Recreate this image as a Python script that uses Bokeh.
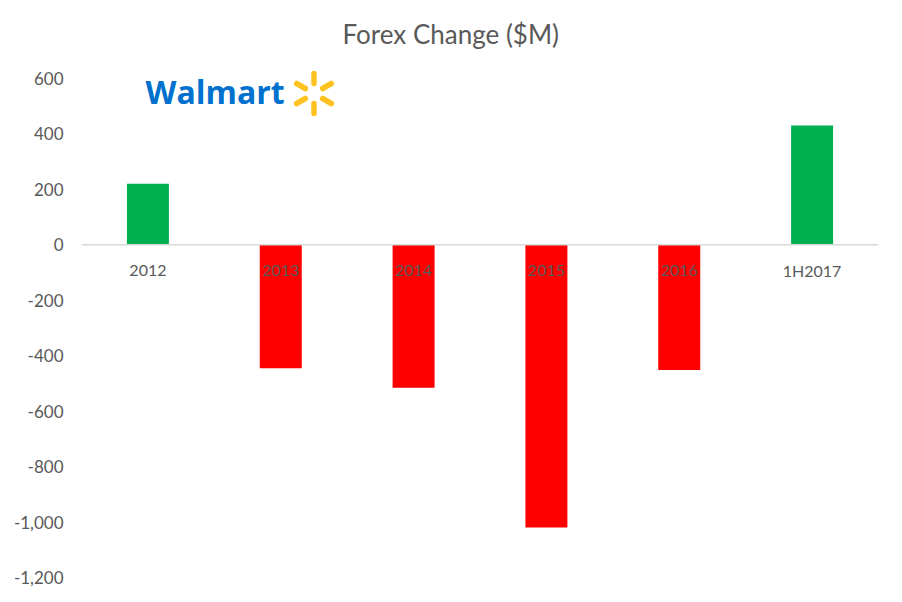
import math
from bokeh.plotting import figure
from bokeh.models import (Range1d, FixedTicker, NumeralTickFormatter, Span,
                          ColumnDataSource)
from bokeh.core.properties import value
from bokeh.embed import file_html
from bokeh.resources import INLINE

# ---- data ----
categories = ["2012", "2013", "2014", "2015", "2016", "1H2017"]
forex_change = [220, -445, -516, -1020, -452, 430]
y_ticks = [-1200, -1000, -800, -600, -400, -200, 0, 200, 400, 600]
title_text = "Forex Change ($M)"
logo_text = "Walmart"

POS = "#00b050"
NEG = "#ff0000"
GRAY = "#595959"
FONT = "Lato"

idx = list(range(len(categories)))
colors = [POS if v >= 0 else NEG for v in forex_change]
src = ColumnDataSource(dict(i=idx, cat=categories, val=forex_change, color=colors,
                            zero=[0] * len(categories)))

p = figure(x_range=Range1d(-0.5, len(categories) - 0.5), y_range=Range1d(-1200, 668),
           frame_width=797, frame_height=518,
           min_border_left=81, min_border_right=22,
           min_border_top=59, min_border_bottom=23,
           x_axis_location=None, toolbar_location=None,
           output_backend="svg", title=title_text)
p.outline_line_color = None
p.xgrid.visible = False
p.ygrid.visible = False
p.background_fill_color = "white"
p.border_fill_color = "white"

p.title.align = "left"
p.title.text_font = FONT
p.title.text_font_style = "normal"
p.title.text_font_size = "26px"
p.title.text_color = GRAY
p.title.offset = 261
p.title.standoff = 20

ax = p.yaxis[0]
ax.ticker = FixedTicker(ticks=y_ticks)
ax.formatter = NumeralTickFormatter(format="0,0")
ax.axis_line_color = None
ax.major_tick_line_color = None
ax.minor_tick_line_color = None
ax.major_tick_out = 0
ax.major_tick_in = 0
ax.major_label_standoff = 18
ax.major_label_text_font = FONT
ax.major_label_text_font_size = "17px"
ax.major_label_text_color = GRAY

p.vbar(x="i", top="val", bottom=0, width=0.316, source=src,
       fill_color="color", line_color=None)

p.add_layout(Span(location=0, dimension="width", line_color="#d9d9d9",
                  line_width=1.3))

# category labels just below the zero line
p.text(x="i", y="zero", text="cat", source=src, y_offset=26,
       text_align="center", text_baseline="alphabetic",
       text_font=value(FONT), text_font_size="16px", text_color=GRAY)

# ---- logo (page-pixel overlay ranges) ----
p.extra_x_ranges = {"px": Range1d(81, 878)}
p.extra_y_ranges = {"py": Range1d(577, 59)}

p.text(x=[145], y=[91], text=[logo_text], x_range_name="px", y_range_name="py",
       text_align="left", text_baseline="alphabetic",
       text_font=value("Open Sans"), text_font_style="bold",
       text_font_size="32px", text_color="#0071ce")

cx, cy = 313.5, 93.0
x0s, y0s, x1s, y1s = [], [], [], []
for k in range(6):
    a = math.radians(90 + 60 * k)
    x0s.append(cx + 10 * math.cos(a)); y0s.append(cy - 10 * math.sin(a))
    x1s.append(cx + 20 * math.cos(a)); y1s.append(cy - 20 * math.sin(a))
p.segment(x0=x0s, y0=y0s, x1=x1s, y1=y1s, x_range_name="px", y_range_name="py",
          line_color="#ffc220", line_width=5.5, line_cap="round")

open("out.html", "w").write(file_html(p, INLINE))
